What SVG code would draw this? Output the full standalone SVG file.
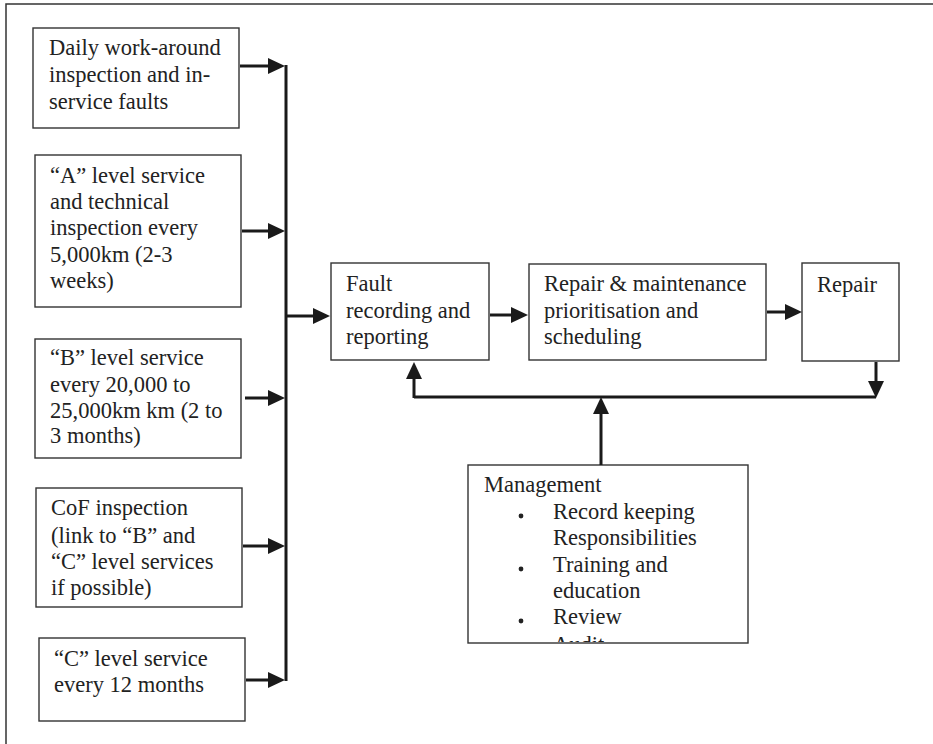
<svg xmlns="http://www.w3.org/2000/svg" width="933" height="744" viewBox="0 0 933 744">
<defs>
<style>
.box{fill:#fff;stroke:#333;stroke-width:1.4}
.t{font-family:"Liberation Serif","Times New Roman",serif;font-size:22.5px;fill:#222}
.c{stroke:#1a1a1a;stroke-width:3;fill:none}
.frame{stroke:#333;stroke-width:1.5;fill:none}
.b{fill:#222}
</style>
<marker id="ah" markerUnits="userSpaceOnUse" markerWidth="17" markerHeight="16" refX="11" refY="8" orient="auto">
<path d="M0,0 L17,8 L0,16 z" fill="#1a1a1a"/>
</marker>
<clipPath id="mclip"><rect x="468" y="465" width="280" height="177"/></clipPath>
</defs>
<rect width="933" height="744" fill="#fff"/>
<path class="frame" d="M6,744 V4 H933"/>

<g id="n1">
<rect class="box" x="33" y="28" width="206" height="100"/>
<text class="t" x="49" y="55">Daily work-around</text>
<text class="t" x="49" y="82">inspection and in-</text>
<text class="t" x="49" y="109">service faults</text>
</g>
<g id="n2">
<rect class="box" x="35" y="155" width="206" height="152"/>
<text class="t" x="50" y="183">“A” level service</text>
<text class="t" x="50" y="209">and technical</text>
<text class="t" x="50" y="235">inspection every</text>
<text class="t" x="50" y="262">5,000km (2-3</text>
<text class="t" x="50" y="288">weeks)</text>
</g>
<g id="n3">
<rect class="box" x="35" y="339" width="206" height="119"/>
<text class="t" x="50" y="365">“B” level service</text>
<text class="t" x="50" y="392">every 20,000 to</text>
<text class="t" x="50" y="418">25,000km km (2 to</text>
<text class="t" x="50" y="443">3 months)</text>
</g>
<g id="n4">
<rect class="box" x="36" y="488" width="206" height="119"/>
<text class="t" x="51" y="515">CoF inspection</text>
<text class="t" x="51" y="543">(link to “B” and</text>
<text class="t" x="51" y="569">“C” level services</text>
<text class="t" x="51" y="595">if possible)</text>
</g>
<g id="n5">
<rect class="box" x="39" y="638" width="206" height="83"/>
<text class="t" x="54" y="666">“C” level service</text>
<text class="t" x="54" y="692">every 12 months</text>
</g>
<g id="n6">
<rect class="box" x="331" y="263" width="158" height="97"/>
<text class="t" x="346" y="291">Fault</text>
<text class="t" x="346" y="318">recording and</text>
<text class="t" x="346" y="344">reporting</text>
</g>
<g id="n7">
<rect class="box" x="529" y="264" width="237" height="96"/>
<text class="t" x="544" y="291">Repair &amp; maintenance</text>
<text class="t" x="544" y="318">prioritisation and</text>
<text class="t" x="544" y="344">scheduling</text>
</g>
<g id="n8">
<rect class="box" x="802" y="263" width="97" height="98"/>
<text class="t" x="817" y="292">Repair</text>
</g>
<g id="n9">
<rect class="box" x="468" y="465" width="280" height="178"/>
<g clip-path="url(#mclip)">
<text class="t" x="484" y="492">Management</text>
<circle class="b" cx="521" cy="516" r="2.4"/>
<text class="t" x="553" y="519">Record keeping</text>
<text class="t" x="553" y="545">Responsibilities</text>
<circle class="b" cx="521" cy="569" r="2.4"/>
<text class="t" x="553" y="572">Training and</text>
<text class="t" x="553" y="598">education</text>
<circle class="b" cx="521" cy="621" r="2.4"/>
<text class="t" x="553" y="624">Review</text>
<circle class="b" cx="521" cy="648" r="2.4"/>
<text class="t" x="553" y="652">Audit</text>
</g>
</g>

<g id="connectors">
<path class="c" d="M286,65 V681"/>
<path class="c" marker-end="url(#ah)" d="M240,66 H279"/>
<path class="c" marker-end="url(#ah)" d="M242,231 H279"/>
<path class="c" marker-end="url(#ah)" d="M245,398 H279"/>
<path class="c" marker-end="url(#ah)" d="M243,546 H279"/>
<path class="c" marker-end="url(#ah)" d="M246,680 H279"/>
<path class="c" marker-end="url(#ah)" d="M287,316 H324"/>
<path class="c" marker-end="url(#ah)" d="M490,315 H522"/>
<path class="c" marker-end="url(#ah)" d="M767,312 H796"/>
<path class="c" marker-end="url(#ah)" d="M876,362 V392"/>
<path class="c" d="M876,397 H414"/>
<path class="c" marker-end="url(#ah)" d="M414,398 V368"/>
<path class="c" marker-end="url(#ah)" d="M601,465 V403"/>
</g>
</svg>
